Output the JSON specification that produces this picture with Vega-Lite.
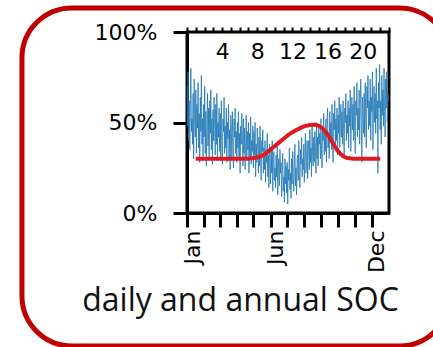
{
 "$schema": "https://vega.github.io/schema/vega-lite/v6.json",
 "width": 202,
 "height": 181,
 "autosize": {"type": "none"},
 "padding": {"left": 187, "top": 32, "right": 44, "bottom": 134},
 "background": "white",
 "config": {
  "view": {"stroke": "black", "strokeWidth": 3},
  "axis": {"labelFont": "DejaVu Sans", "labelColor": "black", "grid": false}
 },
 "datasets": {
  "daily": [
{"day":0,"soc":70},{"day":1,"soc":48},{"day":2,"soc":78},{"day":3,"soc":40},{"day":4,"soc":62},{"day":5,"soc":35},{"day":6,"soc":58},{"day":7,"soc":80},{"day":8,"soc":45},{"day":9,"soc":52},
{"day":10,"soc":38},{"day":11,"soc":66},{"day":12,"soc":30},{"day":13,"soc":74},{"day":14,"soc":50},{"day":15,"soc":42},{"day":16,"soc":68},{"day":17,"soc":33},{"day":18,"soc":60},{"day":19,"soc":47},
{"day":20,"soc":72},{"day":21,"soc":36},{"day":22,"soc":55},{"day":23,"soc":28},{"day":24,"soc":64},{"day":25,"soc":45},{"day":26,"soc":76},{"day":27,"soc":38},{"day":28,"soc":52},{"day":29,"soc":31},
{"day":30,"soc":60},{"day":31,"soc":42},{"day":32,"soc":70},{"day":33,"soc":33},{"day":34,"soc":56},{"day":35,"soc":26},{"day":36,"soc":48},{"day":37,"soc":66},{"day":38,"soc":37},{"day":39,"soc":58},
{"day":40,"soc":30},{"day":41,"soc":62},{"day":42,"soc":44},{"day":43,"soc":68},{"day":44,"soc":35},{"day":45,"soc":52},{"day":46,"soc":27},{"day":47,"soc":57},{"day":48,"soc":40},{"day":49,"soc":64},
{"day":50,"soc":48},{"day":51,"soc":32},{"day":52,"soc":60},{"day":53,"soc":38},{"day":54,"soc":66},{"day":55,"soc":29},{"day":56,"soc":50},{"day":57,"soc":42},{"day":58,"soc":58},{"day":59,"soc":34},
{"day":60,"soc":55},{"day":61,"soc":30},{"day":62,"soc":62},{"day":63,"soc":40},{"day":64,"soc":27},{"day":65,"soc":52},{"day":66,"soc":45},{"day":67,"soc":64},{"day":68,"soc":33},{"day":69,"soc":48},
{"day":70,"soc":36},{"day":71,"soc":58},{"day":72,"soc":28},{"day":73,"soc":50},{"day":74,"soc":41},{"day":75,"soc":60},{"day":76,"soc":31},{"day":77,"soc":46},{"day":78,"soc":24},{"day":79,"soc":54},
{"day":80,"soc":48},{"day":81,"soc":30},{"day":82,"soc":56},{"day":83,"soc":37},{"day":84,"soc":25},{"day":85,"soc":52},{"day":86,"soc":42},{"day":87,"soc":58},{"day":88,"soc":33},{"day":89,"soc":45},
{"day":90,"soc":28},{"day":91,"soc":50},{"day":92,"soc":36},{"day":93,"soc":56},{"day":94,"soc":30},{"day":95,"soc":44},{"day":96,"soc":22},{"day":97,"soc":48},{"day":98,"soc":38},{"day":99,"soc":55},
{"day":100,"soc":42},{"day":101,"soc":26},{"day":102,"soc":52},{"day":103,"soc":33},{"day":104,"soc":47},{"day":105,"soc":24},{"day":106,"soc":40},{"day":107,"soc":54},{"day":108,"soc":30},{"day":109,"soc":45},
{"day":110,"soc":35},{"day":111,"soc":50},{"day":112,"soc":22},{"day":113,"soc":44},{"day":114,"soc":30},{"day":115,"soc":53},{"day":116,"soc":27},{"day":117,"soc":40},{"day":118,"soc":34},{"day":119,"soc":48},
{"day":120,"soc":25},{"day":121,"soc":45},{"day":122,"soc":32},{"day":123,"soc":50},{"day":124,"soc":20},{"day":125,"soc":38},{"day":126,"soc":28},{"day":127,"soc":47},{"day":128,"soc":35},{"day":129,"soc":22},
{"day":130,"soc":42},{"day":131,"soc":26},{"day":132,"soc":48},{"day":133,"soc":30},{"day":134,"soc":18},{"day":135,"soc":40},{"day":136,"soc":34},{"day":137,"soc":46},{"day":138,"soc":22},{"day":139,"soc":36},
{"day":140,"soc":24},{"day":141,"soc":40},{"day":142,"soc":17},{"day":143,"soc":35},{"day":144,"soc":28},{"day":145,"soc":44},{"day":146,"soc":20},{"day":147,"soc":32},{"day":148,"soc":14},{"day":149,"soc":38},
{"day":150,"soc":30},{"day":151,"soc":16},{"day":152,"soc":36},{"day":153,"soc":22},{"day":154,"soc":40},{"day":155,"soc":12},{"day":156,"soc":28},{"day":157,"soc":34},{"day":158,"soc":18},{"day":159,"soc":25},
{"day":160,"soc":14},{"day":161,"soc":32},{"day":162,"soc":20},{"day":163,"soc":38},{"day":164,"soc":10},{"day":165,"soc":26},{"day":166,"soc":30},{"day":167,"soc":15},{"day":168,"soc":35},{"day":169,"soc":22},
{"day":170,"soc":28},{"day":171,"soc":9},{"day":172,"soc":24},{"day":173,"soc":33},{"day":174,"soc":12},{"day":175,"soc":20},{"day":176,"soc":6},{"day":177,"soc":30},{"day":178,"soc":16},{"day":179,"soc":26},
{"day":180,"soc":11},{"day":181,"soc":28},{"day":182,"soc":5},{"day":183,"soc":24},{"day":184,"soc":18},{"day":185,"soc":36},{"day":186,"soc":13},{"day":187,"soc":22},{"day":188,"soc":8},{"day":189,"soc":30},
{"day":190,"soc":16},{"day":191,"soc":34},{"day":192,"soc":20},{"day":193,"soc":12},{"day":194,"soc":28},{"day":195,"soc":38},{"day":196,"soc":15},{"day":197,"soc":25},{"day":198,"soc":10},{"day":199,"soc":30},
{"day":200,"soc":32},{"day":201,"soc":18},{"day":202,"soc":40},{"day":203,"soc":22},{"day":204,"soc":14},{"day":205,"soc":35},{"day":206,"soc":27},{"day":207,"soc":42},{"day":208,"soc":20},{"day":209,"soc":30},
{"day":210,"soc":24},{"day":211,"soc":38},{"day":212,"soc":17},{"day":213,"soc":33},{"day":214,"soc":44},{"day":215,"soc":22},{"day":216,"soc":30},{"day":217,"soc":40},{"day":218,"soc":19},{"day":219,"soc":35},
{"day":220,"soc":40},{"day":221,"soc":24},{"day":222,"soc":46},{"day":223,"soc":28},{"day":224,"soc":36},{"day":225,"soc":20},{"day":226,"soc":48},{"day":227,"soc":32},{"day":228,"soc":26},{"day":229,"soc":42},
{"day":230,"soc":28},{"day":231,"soc":45},{"day":232,"soc":36},{"day":233,"soc":22},{"day":234,"soc":50},{"day":235,"soc":30},{"day":236,"soc":42},{"day":237,"soc":26},{"day":238,"soc":48},{"day":239,"soc":38},
{"day":240,"soc":44},{"day":241,"soc":30},{"day":242,"soc":52},{"day":243,"soc":35},{"day":244,"soc":25},{"day":245,"soc":48},{"day":246,"soc":40},{"day":247,"soc":55},{"day":248,"soc":32},{"day":249,"soc":46},
{"day":250,"soc":34},{"day":251,"soc":52},{"day":252,"soc":28},{"day":253,"soc":46},{"day":254,"soc":58},{"day":255,"soc":36},{"day":256,"soc":44},{"day":257,"soc":30},{"day":258,"soc":56},{"day":259,"soc":42},
{"day":260,"soc":50},{"day":261,"soc":35},{"day":262,"soc":60},{"day":263,"soc":40},{"day":264,"soc":28},{"day":265,"soc":55},{"day":266,"soc":46},{"day":267,"soc":62},{"day":268,"soc":38},{"day":269,"soc":52},
{"day":270,"soc":40},{"day":271,"soc":58},{"day":272,"soc":32},{"day":273,"soc":54},{"day":274,"soc":44},{"day":275,"soc":64},{"day":276,"soc":36},{"day":277,"soc":50},{"day":278,"soc":60},{"day":279,"soc":42},
{"day":280,"soc":56},{"day":281,"soc":38},{"day":282,"soc":62},{"day":283,"soc":45},{"day":284,"soc":30},{"day":285,"soc":58},{"day":286,"soc":50},{"day":287,"soc":66},{"day":288,"soc":40},{"day":289,"soc":54},
{"day":290,"soc":44},{"day":291,"soc":62},{"day":292,"soc":36},{"day":293,"soc":58},{"day":294,"soc":48},{"day":295,"soc":68},{"day":296,"soc":34},{"day":297,"soc":55},{"day":298,"soc":64},{"day":299,"soc":46},
{"day":300,"soc":60},{"day":301,"soc":40},{"day":302,"soc":70},{"day":303,"soc":48},{"day":304,"soc":33},{"day":305,"soc":62},{"day":306,"soc":54},{"day":307,"soc":72},{"day":308,"soc":42},{"day":309,"soc":58},
{"day":310,"soc":46},{"day":311,"soc":68},{"day":312,"soc":38},{"day":313,"soc":60},{"day":314,"soc":74},{"day":315,"soc":50},{"day":316,"soc":28},{"day":317,"soc":64},{"day":318,"soc":56},{"day":319,"soc":44},
{"day":320,"soc":66},{"day":321,"soc":42},{"day":322,"soc":72},{"day":323,"soc":52},{"day":324,"soc":36},{"day":325,"soc":70},{"day":326,"soc":58},{"day":327,"soc":76},{"day":328,"soc":46},{"day":329,"soc":62},
{"day":330,"soc":48},{"day":331,"soc":74},{"day":332,"soc":40},{"day":333,"soc":64},{"day":334,"soc":56},{"day":335,"soc":78},{"day":336,"soc":35},{"day":337,"soc":60},{"day":338,"soc":70},{"day":339,"soc":50},
{"day":340,"soc":66},{"day":341,"soc":44},{"day":342,"soc":80},{"day":343,"soc":52},{"day":344,"soc":62},{"day":345,"soc":22},{"day":346,"soc":72},{"day":347,"soc":58},{"day":348,"soc":82},{"day":349,"soc":46},
{"day":350,"soc":62},{"day":351,"soc":38},{"day":352,"soc":76},{"day":353,"soc":54},{"day":354,"soc":68},{"day":355,"soc":48},{"day":356,"soc":80},{"day":357,"soc":56},{"day":358,"soc":42},{"day":359,"soc":74},
{"day":360,"soc":58},{"day":361,"soc":78},{"day":362,"soc":50},{"day":363,"soc":66},{"day":364,"soc":62}
  ],
  "hourly": [
{"hour":1,"soc":30},{"hour":2,"soc":30},{"hour":3,"soc":30},{"hour":4,"soc":30},{"hour":5,"soc":30},{"hour":6,"soc":30},{"hour":7,"soc":30},{"hour":7.5,"soc":30.3},{"hour":8,"soc":30.8},{"hour":8.5,"soc":31.6},{"hour":9,"soc":33},{"hour":9.5,"soc":35},{"hour":10,"soc":37},{"hour":10.5,"soc":39},{"hour":11,"soc":41},{"hour":11.5,"soc":43},{"hour":12,"soc":44.6},{"hour":12.5,"soc":46},{"hour":13,"soc":47.2},{"hour":13.5,"soc":48.1},{"hour":14,"soc":48.6},{"hour":14.5,"soc":48.8},{"hour":15,"soc":48.2},{"hour":15.5,"soc":46.5},{"hour":16,"soc":43.5},{"hour":16.5,"soc":39.5},{"hour":17,"soc":35.5},{"hour":17.5,"soc":32.5},{"hour":18,"soc":30.8},{"hour":18.5,"soc":30.2},{"hour":19,"soc":30},{"hour":20,"soc":30},{"hour":21,"soc":30},{"hour":22,"soc":30}
  ]
 },
 "layer": [
  {
   "data": {"name": "daily"},
   "mark": {"type": "line", "color": "#1f77b4", "strokeWidth": 0.8},
   "encoding": {
    "x": {"field": "day", "type": "quantitative", "scale": {"domain": [0, 365], "nice": false, "zero": false},
     "axis": {"orient": "bottom", "values": [0,31,59,90,120,151,181,212,243,273,304,334],
      "labelExpr": "datum.value == 0 ? 'Jan' : datum.value == 151 ? 'Jun' : datum.value == 334 ? 'Dec' : ''",
      "labelAngle": 270, "labelAlign": "right", "labelBaseline": "middle", "labelFontSize": 22, "labelPadding": 3, "labelOffset": 5,
      "labelFlush": false, "labelOverlap": false, "labelBound": false,
      "tickSize": 14, "tickWidth": 3, "tickColor": "black", "domainColor": "black", "domainWidth": 3,
      "title": "daily and annual SOC", "titleFont": "Open Sans", "titleFontSize": 32, "titleFontWeight": "normal",
      "titleColor": "#111111", "titleX": 53, "titleY": 97, "titleAlign": "center", "titleBaseline": "alphabetic"}},
    "y": {"field": "soc", "type": "quantitative", "scale": {"domain": [0, 100], "nice": false},
     "axis": {"values": [0, 50, 100], "labelExpr": "datum.value + '%'", "title": null, "tickSize": 14, "tickWidth": 3,
      "tickColor": "black", "domainColor": "black", "domainWidth": 3, "labelFontSize": 22, "labelPadding": 16}}
   }
  },
  {
   "data": {"name": "hourly"},
   "mark": {"type": "line", "color": "#e0191f", "strokeWidth": 4, "interpolate": "monotone"},
   "encoding": {
    "x": {"field": "hour", "type": "quantitative", "scale": {"domain": [0, 23], "nice": false, "zero": false},
     "axis": {"orient": "top", "values": [0,1,2,3,4,5,6,7,8,9,10,11,12,13,14,15,16,17,18,19,20,21,22,23],
      "labelExpr": "datum.value % 4 == 0 && datum.value > 0 ? datum.label : ''",
      "labelFontSize": 22, "labelPadding": -31, "labelBaseline": "alphabetic", "labelFlush": false, "labelOverlap": false,
      "tickSize": 5, "tickWidth": 2, "tickColor": "black", "domain": false, "title": null,
      "encode": {"ticks": {"update": {"y2": {"signal": "datum.value % 4 == 0 ? 6 : 2.5"}}}}}},
    "y": {"field": "soc", "type": "quantitative", "scale": {"domain": [0, 100], "nice": false}}
   }
  },
  {
   "data": {"values": [{}]},
   "mark": {"type": "rect", "filled": false, "stroke": "#c00000", "strokeWidth": 5, "cornerRadius": 50, "clip": false},
   "encoding": {
    "x": {"datum": -0.817, "type": "quantitative", "scale": {"domain": [0, 1], "nice": false, "zero": false}, "axis": null},
    "x2": {"datum": 1.30},
    "y": {"datum": 113.3, "type": "quantitative", "scale": {"domain": [0, 100], "nice": false}},
    "y2": {"datum": -73.5}
   }
  }
 ],
 "resolve": {"scale": {"x": "independent"}, "axis": {"x": "independent"}}
}
